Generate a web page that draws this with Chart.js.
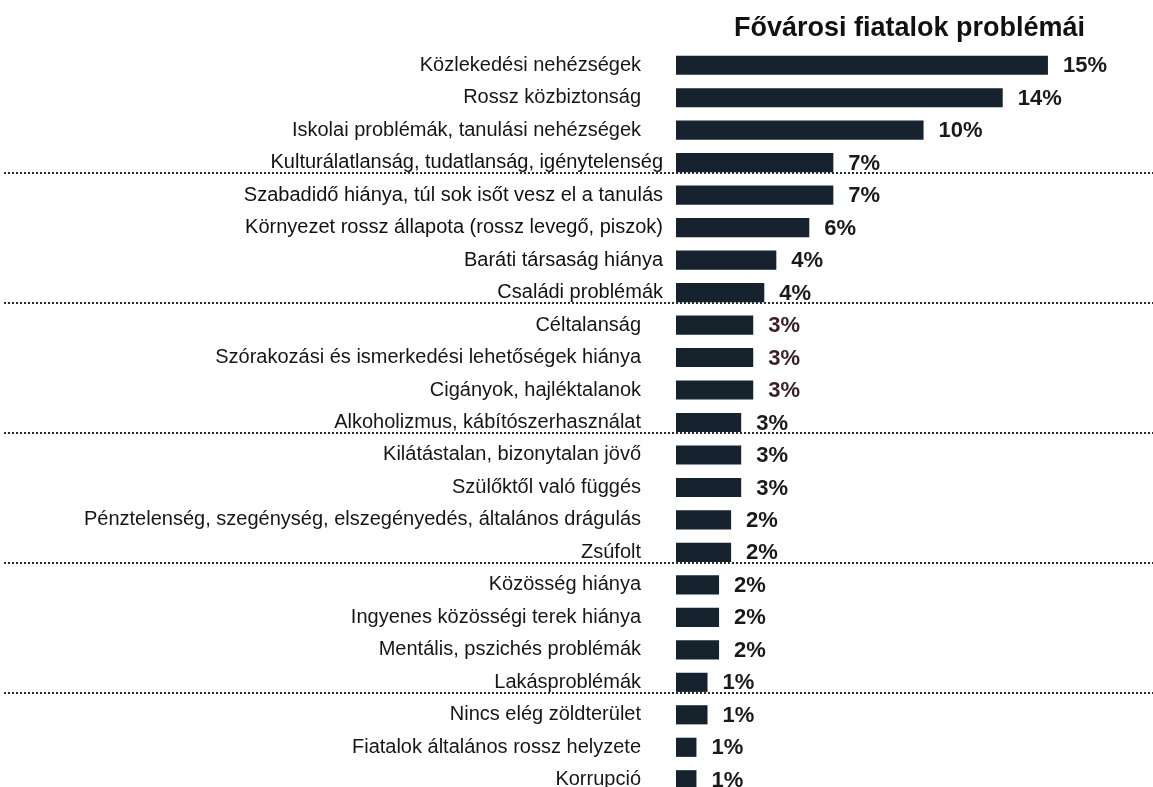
<!DOCTYPE html>
<html lang="hu">
<head>
<meta charset="utf-8">
<title>Fővárosi fiatalok problémái</title>
<script src="https://cdn.jsdelivr.net/npm/chart.js@4.4.1/dist/chart.umd.min.js"></script>
<style>
    html, body { margin: 0; padding: 0; background: #ffffff; overflow: hidden; }
    #wrap { width: 1153px; height: 787px; overflow: hidden; }
</style>
</head>
<body>
<div id="wrap">
    <!-- a vászon magasabb: a kép alja le van vágva, mint az eredetin -->
    <canvas id="grafico" width="1153" height="843"></canvas>
</div>
<script>
// Adatok
const cimkek = [
    'Közlekedési nehézségek',
    'Rossz közbiztonság',
    'Iskolai problémák, tanulási nehézségek',
    'Kulturálatlanság, tudatlanság, igénytelenség',
    'Szabadidő hiánya, túl sok isőt vesz el a tanulás',
    'Környezet rossz állapota (rossz levegő, piszok)',
    'Baráti társaság hiánya',
    'Családi problémák',
    'Céltalanság',
    'Szórakozási és ismerkedési lehetőségek hiánya',
    'Cigányok, hajléktalanok',
    'Alkoholizmus, kábítószerhasználat',
    'Kilátástalan, bizonytalan jövő',
    'Szülőktől való függés',
    'Pénztelenség, szegénység, elszegényedés, általános drágulás',
    'Zsúfolt',
    'Közösség hiánya',
    'Ingyenes közösségi terek hiánya',
    'Mentális, pszichés problémák',
    'Lakásproblémák',
    'Nincs elég zöldterület',
    'Fiatalok általános rossz helyzete',
    'Korrupció'
];

const ertekek = [15.46, 13.58, 10.29, 6.54, 6.54, 5.54, 4.17, 3.67, 3.21, 3.21, 3.21, 2.71, 2.71, 2.71,
    2.29, 2.29, 1.79, 1.79, 1.79, 1.31, 1.31, 0.85, 0.85];

// minden negyedik sor alatt pontozott vonal
const elvalasztoSorok = [3, 7, 11, 15, 19];

// ezek a sorok az eredetin közelebb állnak a sávokhoz
const kozeliSorok = [3, 4, 5, 6, 7];

const cim = 'Fővárosi fiatalok problémái';

const betu = '"Liberation Sans", Arial, sans-serif';

// A közeli sorok feliratai (a tengely többi felirata a Chart.js tick-je)
const kozeliFeliratok = {
    id: 'kozeliFeliratok',
    afterDraw(chart) {
        const ctx = chart.ctx;
        const y = chart.scales.y;
        ctx.save();
        ctx.font = '20px ' + betu;
        ctx.fillStyle = '#111111';
        ctx.textAlign = 'right';
        ctx.textBaseline = 'middle';
        kozeliSorok.forEach(i => {
            ctx.fillText(cimkek[i], chart.chartArea.left - 13, y.getPixelForValue(i));
        });
        ctx.restore();
    }
};

// Százalék feliratok a sávok végén
const ertekFeliratok = {
    id: 'ertekFeliratok',
    afterDatasetsDraw(chart) {
        const ctx = chart.ctx;
        const meta = chart.getDatasetMeta(0);
        ctx.save();
        ctx.font = 'bold 22px ' + betu;
        ctx.textAlign = 'left';
        ctx.textBaseline = 'middle';
        meta.data.forEach((bar, i) => {
            ctx.fillStyle = (i >= 8 && i <= 10) ? '#3a1f25' : '#1a1a1a';
            ctx.fillText(Math.round(ertekek[i]) + '%', bar.x + 15, bar.y + 1);
        });
        ctx.restore();
    }
};

// Pontozott elválasztó vonalak a teljes szélességben
const pontozottVonalak = {
    id: 'pontozottVonalak',
    afterDraw(chart) {
        const ctx = chart.ctx;
        const y = chart.scales.y;
        const lepes = y.getPixelForValue(1) - y.getPixelForValue(0);
        ctx.save();
        ctx.strokeStyle = '#2b2b2b';
        ctx.lineWidth = 2;
        ctx.setLineDash([2, 2]);
        elvalasztoSorok.forEach(sor => {
            const py = Math.round(y.getPixelForValue(sor) + lepes * 0.33);
            ctx.beginPath();
            ctx.moveTo(4, py);
            ctx.lineTo(chart.width, py);
            ctx.stroke();
        });
        ctx.restore();
    }
};

const ctx = document.getElementById('grafico').getContext('2d');

const grafico = new Chart(ctx, {
    type: 'bar',
    data: {
        labels: cimkek,
        datasets: [{
            data: ertekek,
            backgroundColor: '#16232e',
            borderWidth: 0,
            barPercentage: 0.59,
            categoryPercentage: 1
        }]
    },
    options: {
        indexAxis: 'y',
        responsive: false,
        animation: false,
        devicePixelRatio: 1,
        layout: { padding: { top: 8, right: 68, bottom: 0, left: 0 } },
        plugins: {
            legend: { display: false },
            tooltip: { enabled: false },
            title: {
                display: true,
                text: cim,
                align: 'end',
                color: '#111111',
                font: { family: betu, size: 27, weight: 'bold', lineHeight: 1.2 },
                padding: { top: 4, bottom: 4.6 }
            }
        },
        scales: {
            x: {
                display: false,
                min: 0,
                max: 17
            },
            y: {
                grid: { display: false, drawTicks: false },
                border: { display: false },
                ticks: {
                    autoSkip: false,
                    color: '#161616',
                    padding: 35,
                    font: { family: betu, size: 20 },
                    callback(value, index) {
                        return kozeliSorok.includes(index) ? '' : cimkek[index];
                    }
                },
                afterFit(scale) { scale.width = 676; }
            }
        }
    },
    plugins: [ertekFeliratok, kozeliFeliratok, pontozottVonalak]
});
</script>
</body>
</html>
